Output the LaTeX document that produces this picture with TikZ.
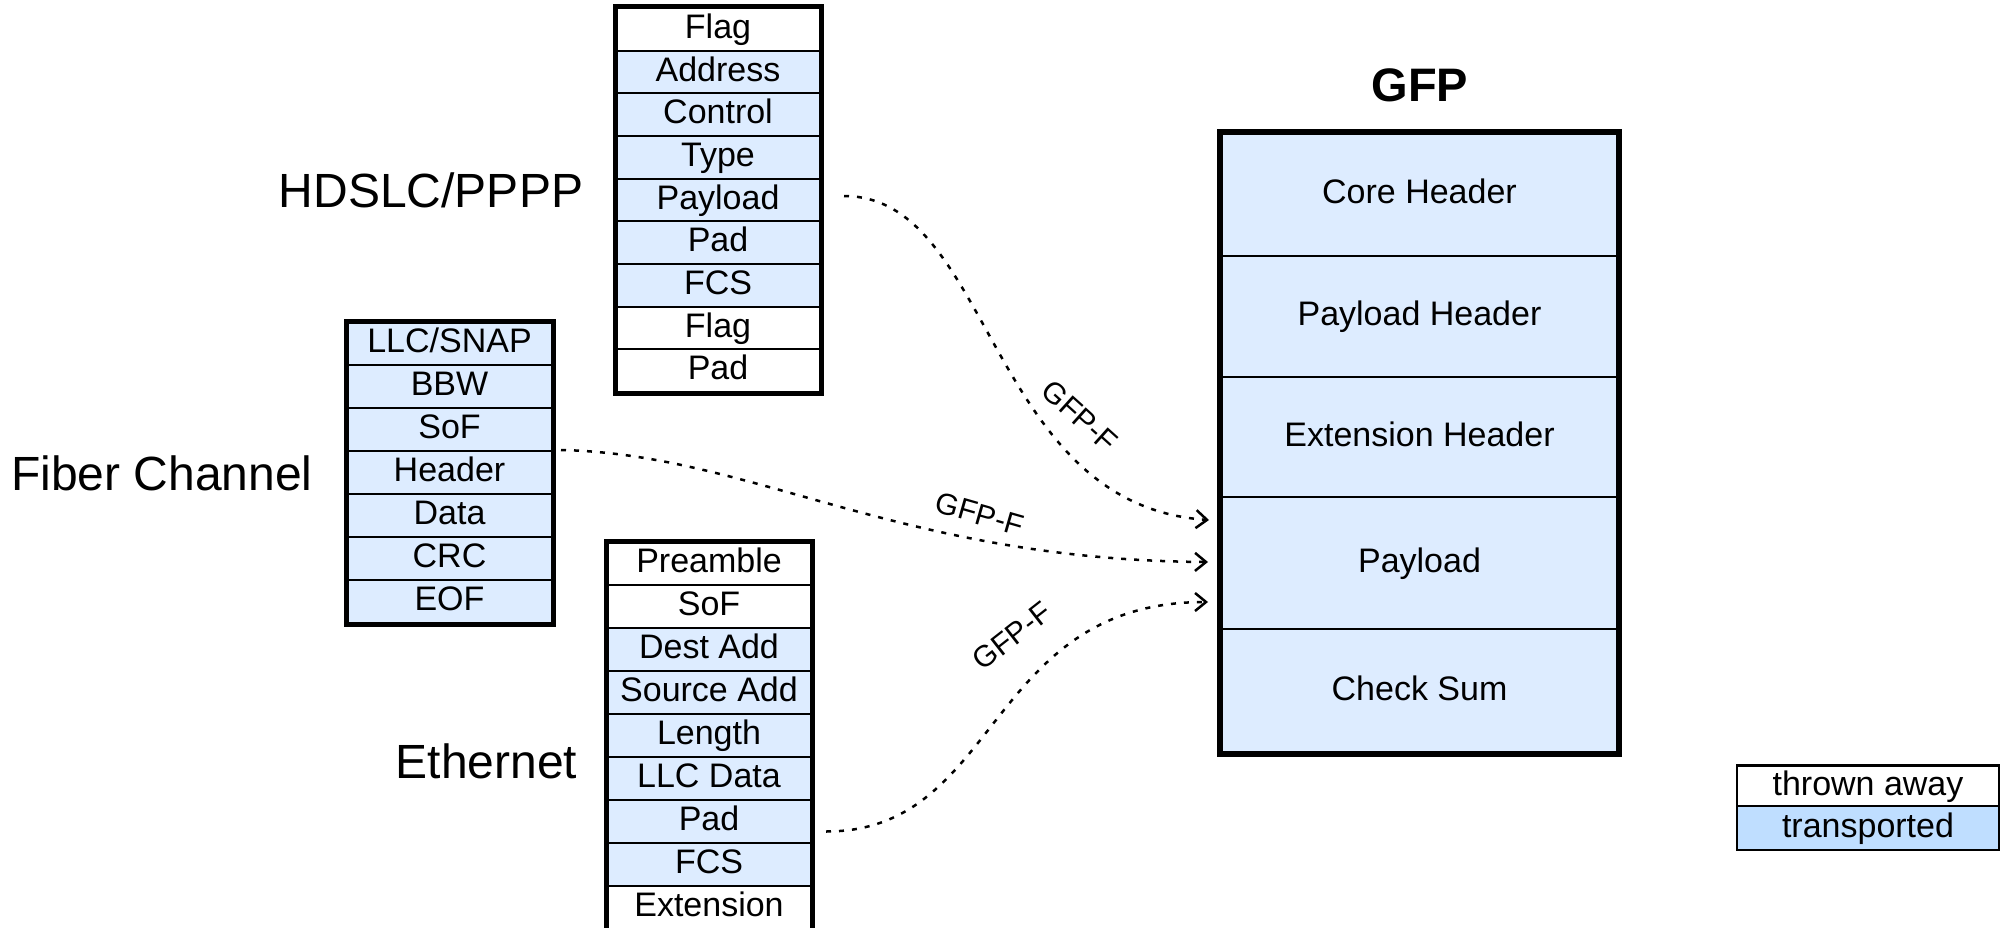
\documentclass[tikz,border=0pt]{standalone}
\usepackage{fontspec}
\setmainfont{Liberation Sans}
\usetikzlibrary{arrows.meta,calc}
\definecolor{cellblue}{RGB}{221,236,255}
\definecolor{legblue}{RGB}{191,222,255}
\begin{document}
\begin{tikzpicture}[x=1pt,y=-1pt,
  cellbase/.style={draw=black,line width=2pt,inner sep=0pt,
    font=\fontsize{34}{40}\selectfont,text height=25pt,text depth=7pt},
  hcell/.style={cellbase,minimum width=204pt,minimum height=42.67pt},
  fcell/.style={cellbase,minimum width=205pt,minimum height=43pt},
  ecell/.style={cellbase,minimum width=204pt,minimum height=43pt},
  gcell/.style={cellbase,fill=cellblue,minimum width=397pt},
  lcell/.style={cellbase,line width=2.5pt,minimum width=262pt},
  outer/.style={draw=black,line width=5pt},
  biglabel/.style={font=\fontsize{48}{56}\selectfont,inner sep=0pt},
  gfplabel/.style={font=\fontsize{30}{36}\selectfont,inner sep=0pt},
  conn/.style={draw=black,line width=2.5pt,dash pattern=on 5pt off 8pt,
    -{Straight Barb[length=11pt,width=18pt,line width=2.5pt]}}
]
\useasboundingbox (0,0) rectangle (2009,928);

% HDLC stack
\foreach \t/\c [count=\i] in {Flag/white,Address/cellblue,Control/cellblue,Type/cellblue,Payload/cellblue,Pad/cellblue,FCS/cellblue,Flag/white,Pad/white}
  \node[hcell,fill=\c] (h\i) at (718,{8+(\i-0.5)*42.67}) {\t};
\draw[outer] (h1.north west) rectangle (h9.south east);

% Fiber Channel stack
\foreach \t [count=\i] in {LLC/SNAP,BBW,SoF,Header,Data,CRC,EOF}
  \node[fcell,fill=cellblue] (f\i) at (449.5,{322+(\i-0.5)*43}) {\t};
\draw[outer] (f1.north west) rectangle (f7.south east);

% Ethernet stack
\foreach \t/\c [count=\i] in {Preamble/white,SoF/white,Dest Add/cellblue,Source Add/cellblue,Length/cellblue,LLC Data/cellblue,Pad/cellblue,FCS/cellblue,Extension/white}
  \node[ecell,fill=\c] (e\i) at (709,{542+(\i-0.5)*43}) {\t};
\draw[outer] (e1.north west) rectangle (e9.south east);

% GFP frame
\node[gcell,minimum height=123pt] (g1) at (1419.5,194.5) {Core Header};
\node[gcell,minimum height=121pt] (g2) at (1419.5,316.5) {Payload Header};
\node[gcell,minimum height=120pt] (g3) at (1419.5,437) {Extension Header};
\node[gcell,minimum height=132pt] (g4) at (1419.5,563) {Payload};
\node[gcell,minimum height=124pt] (g5) at (1419.5,691) {Check Sum};
\draw[draw=black,line width=6pt] (g1.north west) rectangle (g5.south east);
\node[font=\fontsize{47}{56}\selectfont\bfseries,inner sep=0pt] (gfptitle) at (1420,85) {GFP};

% protocol labels
\node[biglabel] (lhdlc) at (431,190) {HDSLC/PPPP};
\node[biglabel] (lfc) at (162,473) {Fiber Channel};
\node[biglabel] (leth) at (486.5,761) {Ethernet};

% connectors
\draw[conn] ($(h5.east)+(23,-4)$) .. controls +(149,0) and +(-222,-15) .. ($(g4.west)+(-11,-43)$);
\draw[conn] ($(f4.north east)+(8,0)$) .. controls +(190,4) and +(-308,-2) .. ($(g4.west)+(-12,-1)$);
\draw[conn] ($(e7.east)+(14,10)$) .. controls +(175,0) and +(-223,0) .. ($(g4.west)+(-12,39)$);

\node[gfplabel,rotate=-42] (t1) at (1080,416) {GFP-F};
\node[gfplabel,rotate=-16] (t2) at (980,514) {GFP-F};
\node[gfplabel,rotate=38] (t3) at (1012,636) {GFP-F};

% legend
\node[lcell,fill=white,minimum height=41pt] (l1) at (1868,786) {thrown away};
\node[lcell,fill=legblue,minimum height=44pt] (l2) at (1868,828) {transported};
\end{tikzpicture}
\end{document}
